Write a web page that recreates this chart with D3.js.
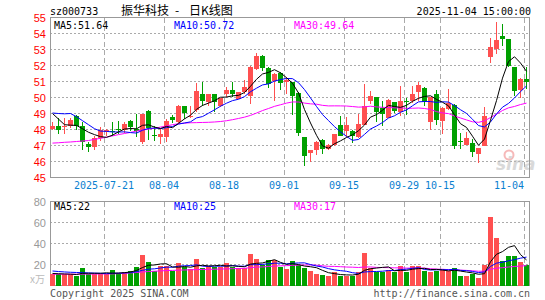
<!DOCTYPE html>
<html>
<head>
<meta charset="utf-8">
<script src="https://cdnjs.cloudflare.com/ajax/libs/d3/7.8.5/d3.min.js"></script>
<title>振华科技 日K线图</title>
<style>
  body { margin: 0; background: #fff; }
  text { font-family: "DejaVu Sans Mono", monospace; font-size: 10px; }
</style>
</head>
<body>
<script>
// daily K data, 2025-07-08 .. 2025-11-04 (80 trading days)
const opens = [48.04,48.25,48.15,48.2,48.83,48.21,47.1,46.9,47.5,47.83,
  47.92,48.05,48.0,48.52,48.05,47.21,49.13,47.65,47.52,47.52,
  48.81,48.46,49.44,48.79,49.19,50.19,49.75,50.19,49.5,50.22,
  50.44,49.92,50.33,50.1,51.8,52.6,51.85,51.02,51.56,51.0,
  50.94,50.3,47.52,46.53,46.74,47.36,46.78,47.05,48.31,47.88,
  47.9,47.52,48.3,49.81,50.02,49.35,48.75,49.69,49.08,49.78,
  49.81,50.35,50.62,48.46,50.19,48.56,49.3,49.55,47.27,47.06,
  47.18,46.47,47.0,52.56,53.02,53.86,53.64,51.9,50.46,51.16];
const highs = [48.46,48.71,48.71,48.7,48.92,48.46,47.25,47.62,48.15,48.05,
  48.5,48.55,48.46,48.58,49.0,49.0,49.2,48.2,48.04,48.67,
  48.88,49.52,49.5,49.44,50.9,50.96,50.19,50.19,50.0,50.67,
  50.96,50.35,51.1,52.0,52.8,52.65,51.88,51.52,51.6,51.3,
  51.0,50.35,47.55,46.75,47.27,47.38,47.1,47.75,48.83,48.77,
  47.95,48.94,50.85,50.42,50.05,49.8,49.9,49.75,50.75,49.98,
  50.75,50.96,50.65,50.04,50.44,49.4,50.55,49.6,47.8,47.85,
  47.4,46.85,49.42,53.7,54.75,54.6,53.66,51.92,51.2,51.92];
const lows = [47.94,47.73,47.73,48.1,47.94,46.75,46.58,46.69,47.29,47.6,
  47.62,47.75,47.79,47.9,47.52,47.1,47.35,47.3,47.12,47.25,
  48.42,48.38,48.67,48.73,49.08,49.5,49.5,49.08,49.4,50.02,
  50.02,49.9,50.25,49.6,51.7,51.65,50.6,49.8,50.5,50.2,
  48.88,47.6,45.72,46.0,46.4,46.5,46.7,47.0,47.62,47.56,
  47.15,47.45,48.3,49.6,48.5,48.22,48.7,49.05,48.85,48.9,
  49.65,49.8,49.5,48.0,48.3,47.7,49.25,46.78,46.8,47.05,
  46.28,45.92,46.96,52.15,52.75,53.2,51.93,50.1,49.95,50.53];
const closes = [48.25,48.0,48.2,48.62,48.21,47.21,46.9,47.46,47.98,48.0,
  47.88,47.95,48.33,48.15,47.9,48.98,48.1,47.62,47.7,48.56,
  48.58,49.46,49.02,48.85,50.38,49.81,50.19,49.75,49.95,50.44,
  50.19,50.33,50.65,51.9,52.62,51.85,50.82,51.5,50.92,51.1,
  50.1,47.8,46.32,46.72,47.25,46.8,47.05,47.73,47.62,48.31,
  47.62,48.35,49.5,50.08,49.1,49.0,49.85,49.15,49.81,49.74,
  50.25,50.8,49.73,50.02,48.6,49.37,49.66,46.95,47.23,47.44,
  46.62,46.83,48.87,53.14,53.57,53.64,52.0,50.38,51.18,50.97];
const volumes = [11.3,10.8,10.8,10.8,8.6,16.8,11.3,10.8,10.8,10.8,
  15.0,11.8,12.7,14.0,17.8,29.2,22.7,14.0,18.9,18.9,
  13.8,21.5,17.3,15.6,25.2,16.6,18.9,17.8,17.8,21.5,
  17.8,16.2,16.2,30.2,25.2,19.7,24.0,24.0,17.3,15.6,
  22.9,19.7,17.1,14.0,11.1,10.2,8.6,12.7,9.5,9.5,
  9.5,12.7,31.1,17.1,12.7,12.7,15.0,12.7,19.0,12.7,
  18.1,18.1,14.0,12.7,14.0,15.0,14.0,17.1,8.6,9.5,
  10.8,7.6,19.7,65.5,45.0,23.8,27.8,27.8,22.8,19.6];

// MA values for the first days (their windows start before the shown range)
const ma5Head = [49.0,48.65,48.3,48.27];
const ma10Head = [49.03,49.0,48.98,49.0,48.8,48.55,48.3,48.05,47.9];
const ma30Head = [47.15,47.17,47.2,47.22,47.25,47.28,47.31,47.38,47.45,47.52,
  47.6,47.68,47.75,47.82,47.9,47.97,48.02,48.08,48.15,48.22,
  48.3,48.36,48.4,48.42,48.43,48.44,48.45,48.47,48.5];
const vma5Head = [11.5,11.2,11.0,10.8];
const vma10Head = [13.8,13.3,12.9,12.6,12.4,12.2,12.0,11.8,11.6];
const vma30Head = [10.8,10.8,10.8,10.8,10.8,10.8,10.9,10.9,11.0,11.0,
  11.1,11.3,11.6,12.0,12.4,12.9,13.3,13.6,13.9,14.2,
  14.4,14.6,14.8,15.0,15.1,15.3,15.4,15.5,15.7];

const tickIdx = [9,19,29,39,49,59,65,79];
const tickLabels = ["2025-07-21","08-04","08-18","09-01","09-15","09-29","10-15","11-04"];
const priceTicks = [45,46,47,48,49,50,51,52,53,54,55];
const volTicks = [20,40,60,80];
const maLegend = ["MA5:51.64","MA10:50.72","MA30:49.64"];
const volLegend = ["MA5:22","MA10:25","MA30:17"];
const maColors = ["#000","#0000ff","#ff00ff"];

const w = 545, h = 300;
const up = "#ff5050", down = "#00a000";

const svg = d3.select("body").append("svg")
  .attr("width", w).attr("height", h);

const xScale = d3.scaleBand()
  .domain(d3.range(closes.length))
  .range([49.5, 529.5])
  .paddingInner(1/6).paddingOuter(1/12);
const yScale = d3.scaleLinear().domain([45, 55]).range([177.5, 17.5]);
const vScale = d3.scaleLinear().domain([0, 80]).range([285.5, 201.5]);

function movingAvg(vals, n, head) {
  return vals.map((v, i) => i < n - 1 ? head[i] : d3.mean(vals.slice(i - n + 1, i + 1)));
}

// header
svg.append("text").attr("x", 50).attr("y", 15).text("sz000733");
const title = svg.append("text").attr("y", 15)
  .style("font-family", "'Noto Sans CJK SC'").style("font-size", "12px");
title.append("tspan").attr("x", 121).text("振华科技");
title.append("tspan").attr("x", 175).text("-");
title.append("tspan").attr("x", 189).text("日K线图");
svg.append("text").attr("x", 531).attr("y", 15).attr("text-anchor", "end")
  .text("2025-11-04 15:00:00");

// grids
const grid = svg.append("g").attr("shape-rendering", "crispEdges");
grid.selectAll(".hp").data(priceTicks.slice(1, -1)).enter().append("line")
  .attr("x1", 50).attr("x2", 530)
  .attr("y1", d => yScale(d)).attr("y2", d => yScale(d))
  .attr("stroke", "#aaa").attr("stroke-dasharray", "2,2");
grid.selectAll(".hv").data(volTicks.slice(0, -1)).enter().append("line")
  .attr("x1", 50).attr("x2", 530)
  .attr("y1", d => vScale(d)).attr("y2", d => vScale(d))
  .attr("stroke", "#aaa").attr("stroke-dasharray", "2,2");
[[yScale(55), yScale(45)], [vScale(80), vScale(0)]].forEach(r => {
  grid.selectAll(null).data(tickIdx).enter().append("line")
    .attr("x1", d => xScale(d) + 0.5).attr("x2", d => xScale(d) + 0.5)
    .attr("y1", r[0]).attr("y2", r[1])
    .attr("stroke", "#aaa").attr("stroke-dasharray", "5,3");
});

// watermark
const wm = svg.append("g").attr("opacity", 0.55);
wm.append("circle").attr("cx", 509).attr("cy", 155).attr("r", 4.5)
  .attr("fill", "none").attr("stroke", "#f08080").attr("stroke-width", 2);
wm.append("text").attr("x", 496).attr("y", 170)
  .style("font", "italic bold 17px 'DejaVu Sans'").attr("fill", "#bbb").text("sina");

// frames
svg.append("rect").attr("x", 50.5).attr("y", 17.5).attr("width", 479).attr("height", 160)
  .attr("fill", "none").attr("stroke", "#999");
svg.append("rect").attr("x", 50.5).attr("y", 201.5).attr("width", 479).attr("height", 84)
  .attr("fill", "none").attr("stroke", "#999");

// axes
svg.append("g").attr("transform", "translate(50,0)")
  .call(d3.axisLeft(yScale).tickValues(priceTicks).tickSize(0).tickPadding(4))
  .call(g => g.select(".domain").remove())
  .selectAll("text").attr("fill", "#f00")
  .style("font-family", "'Liberation Sans'").style("font-size", "11px");

svg.append("g").attr("transform", "translate(50,0)")
  .call(d3.axisLeft(vScale).tickValues(volTicks).tickSize(0).tickPadding(4))
  .call(g => g.select(".domain").remove())
  .selectAll("text").attr("fill", "#999")
  .style("font-family", "'Liberation Sans'").style("font-size", "11px");
svg.append("text").attr("x", 45).attr("y", 283).attr("text-anchor", "end")
  .attr("fill", "#bbb").style("font-family", "'Noto Sans CJK SC'").style("font-size", "10px")
  .text("x万");

const xAxis = svg.append("g").attr("transform", "translate(-2.5,177.5)")
  .call(d3.axisBottom(xScale).tickValues(tickIdx).tickSize(0).tickPadding(4.5)
    .tickFormat((d, i) => tickLabels[i]));
xAxis.select(".domain").remove();
xAxis.selectAll("text").attr("fill", "#0a80d0")
  .style("font-family", "'DejaVu Sans Mono'").style("font-size", "10px");
xAxis.selectAll("text").filter((d, i) => i === tickIdx.length - 1).attr("text-anchor", "end");

// candles
const idx = d3.range(closes.length);
const color = i => closes[i] >= opens[i] ? up : down;
const candles = svg.append("g").attr("shape-rendering", "crispEdges");
candles.selectAll("line").data(idx).enter().append("line")
  .attr("x1", i => xScale(i) + 2.5).attr("x2", i => xScale(i) + 2.5)
  .attr("y1", i => yScale(highs[i])).attr("y2", i => yScale(lows[i]))
  .attr("stroke", color);
candles.selectAll("rect").data(idx).enter().append("rect")
  .attr("x", i => xScale(i))
  .attr("width", xScale.bandwidth())
  .attr("y", i => yScale(Math.max(opens[i], closes[i])))
  .attr("height", i => Math.max(1, Math.abs(yScale(opens[i]) - yScale(closes[i]))))
  .attr("fill", color);

// volume bars
svg.append("g").attr("shape-rendering", "crispEdges")
  .selectAll("rect").data(idx).enter().append("rect")
  .attr("x", i => xScale(i))
  .attr("width", xScale.bandwidth())
  .attr("y", i => vScale(volumes[i]))
  .attr("height", i => vScale(0) - vScale(volumes[i]))
  .attr("fill", color);

// moving averages
const priceMA = [movingAvg(closes, 5, ma5Head), movingAvg(closes, 10, ma10Head), movingAvg(closes, 30, ma30Head)];
const volMA = [movingAvg(volumes, 5, vma5Head), movingAvg(volumes, 10, vma10Head), movingAvg(volumes, 30, vma30Head)];
const pLine = d3.line().x((d, i) => xScale(i) + 2.5).y(d => yScale(d));
const vLine = d3.line().x((d, i) => xScale(i) + 2.5).y(d => vScale(d));
[2, 1, 0].forEach(k => {
  svg.append("path").attr("d", pLine(priceMA[k])).attr("fill", "none")
    .attr("stroke", maColors[k]).attr("stroke-width", 1);
  svg.append("path").attr("d", vLine(volMA[k])).attr("fill", "none")
    .attr("stroke", maColors[k]).attr("stroke-width", 1);
});

// legends
maLegend.forEach((t, k) => {
  svg.append("text").attr("x", 54 + 120 * k).attr("y", 29).attr("fill", maColors[k]).text(t);
});
volLegend.forEach((t, k) => {
  svg.append("text").attr("x", 54 + 120 * k).attr("y", 210).attr("fill", maColors[k]).text(t);
});

// footer
svg.append("text").attr("x", 50).attr("y", 297).attr("fill", "#555").text("Copyright 2025 SINA.COM");
svg.append("text").attr("x", 530).attr("y", 297).attr("text-anchor", "end").attr("fill", "#555")
  .text("http://finance.sina.com.cn");
</script>
</body>
</html>
